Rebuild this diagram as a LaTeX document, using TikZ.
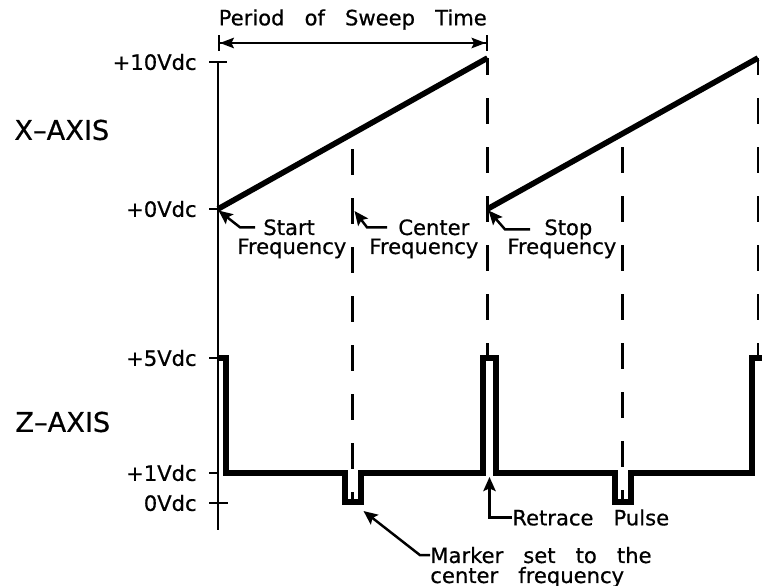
\documentclass[tikz,border=0pt]{standalone}
\usepackage{fontspec}
\setmainfont[WordSpace=3,FakeBold=0.6]{DejaVu Sans}
\usetikzlibrary{arrows.meta}

\begin{document}
\begin{tikzpicture}[>=Stealth,scale=1.0,
  txt/.style={inner sep=0pt,font=\fontsize{12}{14}\selectfont},
  axtxt/.style={inner sep=0pt,font=\fontsize{15.5}{18}\selectfont},
  lead/.style={-{Stealth[length=8pt,width=7pt,inset=1.5pt]},line width=1.4pt},
  ramp/.style={line width=3.2pt},
  zwave/.style={line width=3pt,line join=miter},
  vline/.style={line width=1.5pt,dash pattern=on 0.52cm off 0.46cm}]
  \useasboundingbox (0,0) rectangle (15.24,11.72);
  % sweep end points and centre points
  \coordinate (x0) at (4.36,7.54);
  \coordinate (x1) at (9.75,10.56);
  \coordinate (x2) at (9.75,7.54);
  \coordinate (x3) at (15.16,10.56);
  \coordinate (c1) at (7.055,9.05);
  \coordinate (c2) at (12.455,9.05);
  % axis with ticks and voltage labels
  \draw[line width=1.5pt] (4.36,10.48) -- (4.36,1.12);
  \foreach \y/\r/\nm/\v in {10.48/0.18/v10/+10Vdc,7.54/0/v0/+0Vdc,
      4.56/0/v5/+5Vdc,2.26/0/v1/+1Vdc,1.66/0.2/vz/0Vdc} {
    \draw[line width=1.5pt] (4.18,\y) -- (4.36+\r,\y);
    \node[txt,anchor=east] (\nm) at (3.94,\y) {\v};
  }
  \node[axtxt,anchor=west] (xaxis) at (0.28,9.12) {X--AXIS};
  \node[axtxt,anchor=west] (zaxis) at (0.30,3.28) {Z--AXIS};
  % period of one sweep
  \coordinate (p0) at (4.36,10.86);
  \coordinate (p1) at (9.75,10.86);
  \draw[{Bar[width=9pt]Stealth[length=8pt,width=6pt,inset=1.5pt]}-{Stealth[length=8pt,width=6pt,inset=1.5pt]Bar[width=9pt]},
        line width=1.1pt] (p0) -- node[txt,above=7pt] (period) {Period of Sweep Time} (p1);
  % X axis ramps
  \draw[ramp] (x0) -- (x1);
  \draw[ramp] (x2) -- (x3);
  % Z axis: retrace pulses and markers
  \draw[zwave] (4.36,4.56) -- (4.52,4.56) -- (4.52,2.26) -- (6.90,2.26) -- (6.90,1.68)
    -- (7.22,1.68) -- (7.22,2.26) -- (9.66,2.26) -- (9.66,4.56) -- (9.92,4.56)
    -- (9.92,2.26) -- (12.30,2.26) -- (12.30,1.68) -- (12.62,1.68) -- (12.62,2.26)
    -- (15.04,2.26) -- (15.04,4.56) -- (15.30,4.56);
  % dashed time lines
  \draw[vline,dash phase=0.32cm] (7.055,1.68) -- (c1);
  \draw[vline,dash phase=0.28cm] (12.455,1.68) -- (c2);
  \draw[vline,dash phase=0.22cm] (9.75,4.56) -- (x1);
  \draw[vline,dash phase=0.22cm] (15.16,4.56) -- (x3);
  % frequency callouts
  \coordinate (tipS) at (4.37,7.51);
  \coordinate (tipC) at (7.09,7.50);
  \coordinate (tipP) at (9.77,7.51);
  \node[txt,anchor=base west] (startl) at (5.26,7.02) {Start};
  \node[txt,anchor=base west] (startf) at (4.74,6.64) {Frequency};
  \node[txt,anchor=base west] (centl) at (7.96,7.02) {Center};
  \node[txt,anchor=base west] (centf) at (7.38,6.64) {Frequency};
  \node[txt,anchor=base west] (stopl) at (10.88,7.02) {Stop};
  \node[txt,anchor=base west] (stopf) at (10.14,6.64) {Frequency};
  \draw[lead] ([xshift=-0.16cm]startl.west) -- ++(-0.30,0) -- (tipS);
  \draw[lead] ([xshift=-0.22cm]centl.west) -- ++(-0.40,0) -- (tipC);
  \draw[lead] ([xshift=-0.28cm]stopl.west) -- ++(-0.50,0) -- (tipP);
  % pulse callouts
  \coordinate (tipR) at (9.79,2.18);
  \coordinate (tipM) at (7.27,1.50);
  \node[txt,anchor=west] (retr) at (10.24,1.37) {Retrace Pulse};
  \node[txt,anchor=base west] (mark1) at (8.60,0.46) {Marker set to the};
  \node[txt,anchor=base west] (mark2) at (8.60,0.06) {center frequency};
  \draw[lead] (retr.west) -| (tipR);
  \draw[lead] (mark1.west) -- ++(-0.20,0) -- (tipM);
\end{tikzpicture}
\end{document}
